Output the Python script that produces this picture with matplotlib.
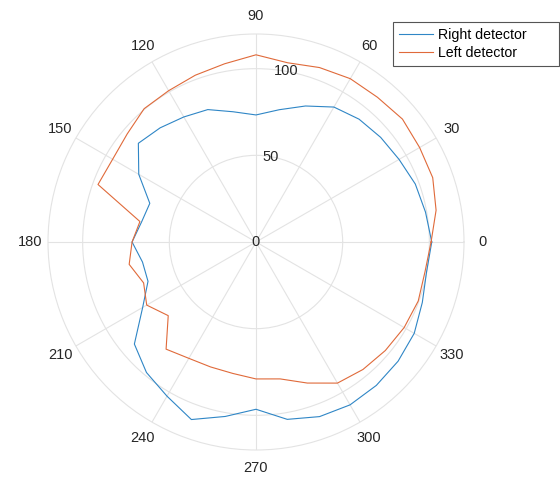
import numpy as np
import matplotlib
matplotlib.use("Agg")
import matplotlib.pyplot as plt

plt.rcParams["font.family"] = ["Liberation Sans", "DejaVu Sans"]
plt.rcParams["font.size"] = 10

# angles in degrees, one sample every 10 degrees
angles_deg = np.arange(0, 360, 10)

right_detector = [101.4, 99.3, 97.8, 95.3, 93.9, 92.5, 89.9, 83.5, 77.5, 73.3,
                  76.3, 81.3, 83.3, 86.0, 88.6, 78.1, 65.2, 67.0, 71.5, 66.5,
                  66.3, 75.5, 91.6, 98.3, 102.7, 109.0, 102.2, 96.5, 103.9, 107.2,
                  108.5, 108.0, 107.0, 105.4, 102.1, 99.9]

left_detector = [101.0, 105.5, 108.5, 109.0, 110.3, 109.0, 108.8, 107.1, 105.0, 108.0,
                 104.4, 102.4, 100.8, 100.4, 97.0, 95.5, 97.0, 68.0, 71.5, 74.3,
                 69.0, 72.8, 66.1, 80.7, 77.5, 76.7, 77.0, 79.0, 80.2, 86.6,
                 94.0, 96.0, 97.4, 98.7, 99.6, 99.0]

series_names = ["Right detector", "Left detector"]
theta_ticks = list(range(0, 360, 30))
r_ticks = [0, 50, 100]
r_max = 120

grid_col = "#e3e3e3"
text_col = "#262626"

fig = plt.figure(figsize=(5.6, 4.8), dpi=100)
ax = fig.add_axes([48 / 560, 30 / 480, 416 / 560, 416 / 480], projection="polar")

theta = np.deg2rad(np.append(angles_deg, angles_deg[0]))
r_right = np.append(right_detector, right_detector[0])
r_left = np.append(left_detector, left_detector[0])

ax.plot(theta, r_right, color="#2f86c6", lw=0.8, label=series_names[0])
ax.plot(theta, r_left, color="#e06a3a", lw=0.8, label=series_names[1])

ax.set_ylim(0, r_max)
ax.set_thetagrids(theta_ticks, labels=[str(t) for t in theta_ticks])
ax.set_rgrids(r_ticks, labels=[str(t) for t in r_ticks], angle=80)
ax.grid(True, color=grid_col, lw=0.8)
ax.spines["polar"].set_color(grid_col)
ax.spines["polar"].set_linewidth(0.8)
ax.tick_params(axis="x", pad=2.5, colors=text_col, labelsize=10.5)
ax.tick_params(axis="y", pad=0, colors=text_col, labelsize=10.5)
for lab in ax.get_yticklabels():
    lab.set_ha("center")
    lab.set_va("center")

leg = fig.legend(loc="upper left",
                 bbox_to_anchor=(393 / 560, 1 - 63 / 480, 166 / 560, 41 / 480),
                 mode="expand", borderaxespad=0, fancybox=False, framealpha=1,
                 handlelength=2.4, handletextpad=0.35, borderpad=0.4,
                 labelspacing=0.3, fontsize=10.2)
leg.get_frame().set_edgecolor("#555555")
leg.get_frame().set_linewidth(0.8)

fig.savefig("out.png", dpi=100, facecolor="white")
